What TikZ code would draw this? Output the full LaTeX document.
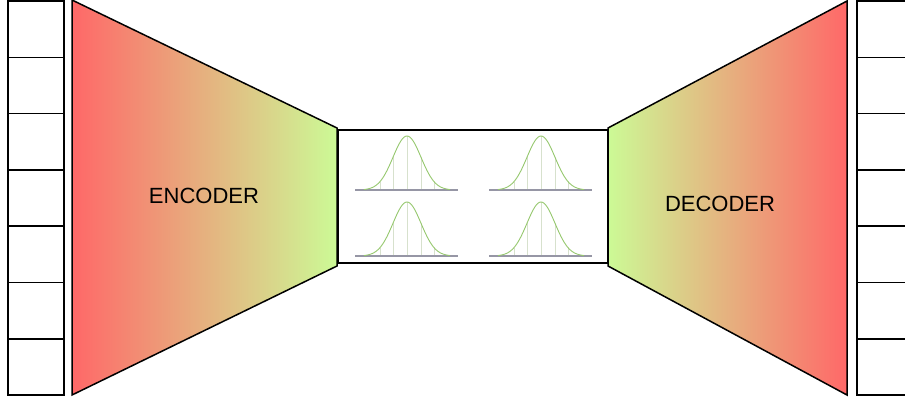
\documentclass[tikz,border=0pt]{standalone}
\usepackage{fontspec}
\setmainfont{Liberation Sans}
\usetikzlibrary{positioning,calc}

\definecolor{encred}{RGB}{255,104,104}
\definecolor{encgreen}{RGB}{204,250,150}
\definecolor{bellgreen}{RGB}{150,200,110}
\definecolor{gridgreen}{RGB}{215,225,205}
\definecolor{axisgray}{RGB}{150,150,165}

\begin{document}
\begin{tikzpicture}[x=1pt, y=-1pt,
  cell/.style={rectangle, draw, line width=1.5pt, minimum width=56pt,
               minimum height=56.3pt, inner sep=0pt},
  net/.style={draw, line width=1.5pt},
  latentbox/.style={rectangle, draw, fill=white, line width=1.5pt,
                    minimum width=270pt, minimum height=133pt, inner sep=0pt},
  netlabel/.style={font=\fontsize{22}{26}\selectfont},
  bell/.style={bellgreen, line width=0.9pt},
  gridline/.style={gridgreen, line width=0.8pt},
  axisline/.style={axisgray, line width=1.3pt}
]
  \clip (0,0) rectangle (905,401);

  % input and output cells
  \foreach \i in {1,...,7} {
    \node[cell] (in\i)  at (36,  {1+56.3*(\i-0.5)}) {};
    \node[cell] (out\i) at (885, {1+56.3*(\i-0.5)}) {};
  }

  % encoder and decoder
  \draw[net, left color=encred, right color=encgreen]
    (72,0) -- (337,128) -- (337,266) -- (72,395) -- cycle;
  \draw[net, left color=encgreen, right color=encred]
    (608,128) -- (847,1) -- (847,395) -- (608,266) -- cycle;
  \node[netlabel] (enc) at (204,196) {ENCODER};
  \node[netlabel] (dec) at (720,204) {DECODER};

  % latent space
  \node[latentbox] (latent) at (473,196.5) {};
  \foreach \cx/\cy in {407/190, 541/190, 407/256, 541/256} {
    \foreach \d in {-41,-27,-14,0,14,27,41}
      \draw[gridline] (\cx+\d,\cy) -- (\cx+\d,{\cy-54*exp(-(\d)^2/392)});
    \draw[axisline] (\cx-52,\cy) -- (\cx+51,\cy);
    \draw[bell] plot[domain=-43:43, samples=61, smooth]
      ({\cx+\x},{\cy-54*exp(-(\x)^2/392)});
  }
\end{tikzpicture}
\end{document}
